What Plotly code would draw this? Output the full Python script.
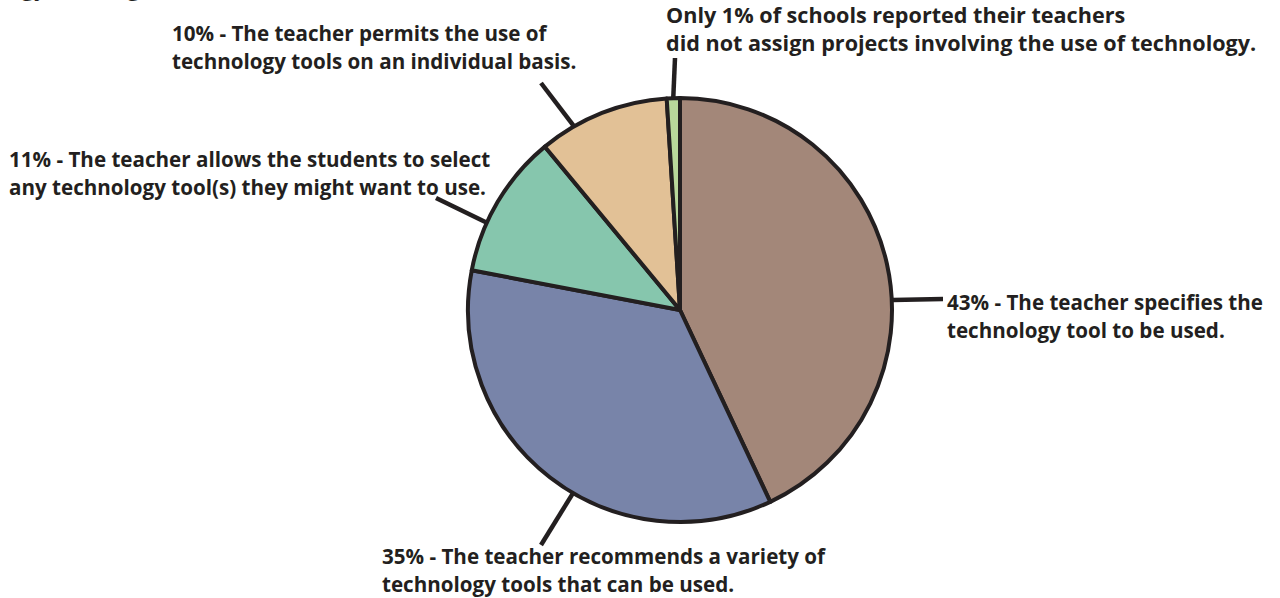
import math
import plotly.graph_objects as go

# Survey shares, in drawing order (clockwise from 12 o'clock)
shares = [43, 35, 11, 10, 1]
slice_colors = ["#a38779", "#7884a9", "#86c6ad", "#e2c196", "#b9d89b"]
label_line1 = [
    "43% - The teacher specifies the",
    "35% - The teacher recommends a variety of",
    "11% - The teacher allows the students to select",
    "10% - The teacher permits the use of",
    "Only 1% of schools reported their teachers",
]
label_line2 = [
    "technology tool to be used.",
    "technology tools that can be used.",
    "any technology tool(s) they might want to use.",
    "technology tools on an individual basis.",
    "did not assign projects involving the use of technology.",
]

W, H = 1280, 598
INK = "#231f20"
FONT = "Open Sans"

# Pie geometry in pixels
cx, cy, R = 680, 310, 212


def px(x):
    return x / W


def py(y):
    return 1 - y / H


fig = go.Figure(
    go.Pie(
        values=shares,
        sort=False,
        direction="clockwise",
        rotation=0,
        marker=dict(colors=slice_colors, line=dict(color=INK, width=4)),
        textinfo="none",
        hoverinfo="percent",
        showlegend=False,
        domain=dict(x=[px(cx - R), px(cx + R)], y=[py(cy + R), py(cy - R)]),
    )
)

# Label placement: text origin (left, first-line centre), font size and
# leader line (angle on the rim, outer end point)
text_pos = [(945, 302), (380, 556), (7, 159), (170, 33), (664, 15)]
text_size = [20.6, 20.6, 20.6, 20.6, 21.6]
leader_angle = [87.3, 210.3, 294.3, 330.0, 358.2]
leader_end = [(943, 299), (541, 545), (436, 198), (541, 83), (675, 58)]
LINE_GAP = 28

shapes = []
annotations = []
for i in range(len(shares)):
    a = math.radians(leader_angle[i])
    x0 = cx + (R + 1) * math.sin(a)
    y0 = cy - (R + 1) * math.cos(a)
    x1, y1 = leader_end[i]
    shapes.append(
        dict(
            type="line", xref="paper", yref="paper",
            x0=px(x0), y0=py(y0), x1=px(x1), y1=py(y1),
            line=dict(color=INK, width=4.5),
        )
    )
    tx, ty = text_pos[i]
    for k, txt in enumerate((label_line1[i], label_line2[i])):
        annotations.append(
            dict(
                text=txt, xref="paper", yref="paper",
                x=px(tx), y=py(ty + k * LINE_GAP),
                xanchor="left", yanchor="middle", showarrow=False,
                font=dict(family=FONT, size=text_size[i], color=INK,
                          weight="bold"),
            )
        )

# Tail of the running body text above the figure
annotations.append(
    dict(
        text="ogy (see Figure 5).", xref="paper", yref="paper",
        x=px(4), y=py(-15), xanchor="left", yanchor="middle", showarrow=False,
        font=dict(family=FONT, size=25, color=INK),
    )
)

fig.update_layout(
    width=W, height=H,
    margin=dict(l=0, r=0, t=0, b=0),
    paper_bgcolor="white", plot_bgcolor="white",
    shapes=shapes, annotations=annotations,
)

fig.write_html("out.html")
